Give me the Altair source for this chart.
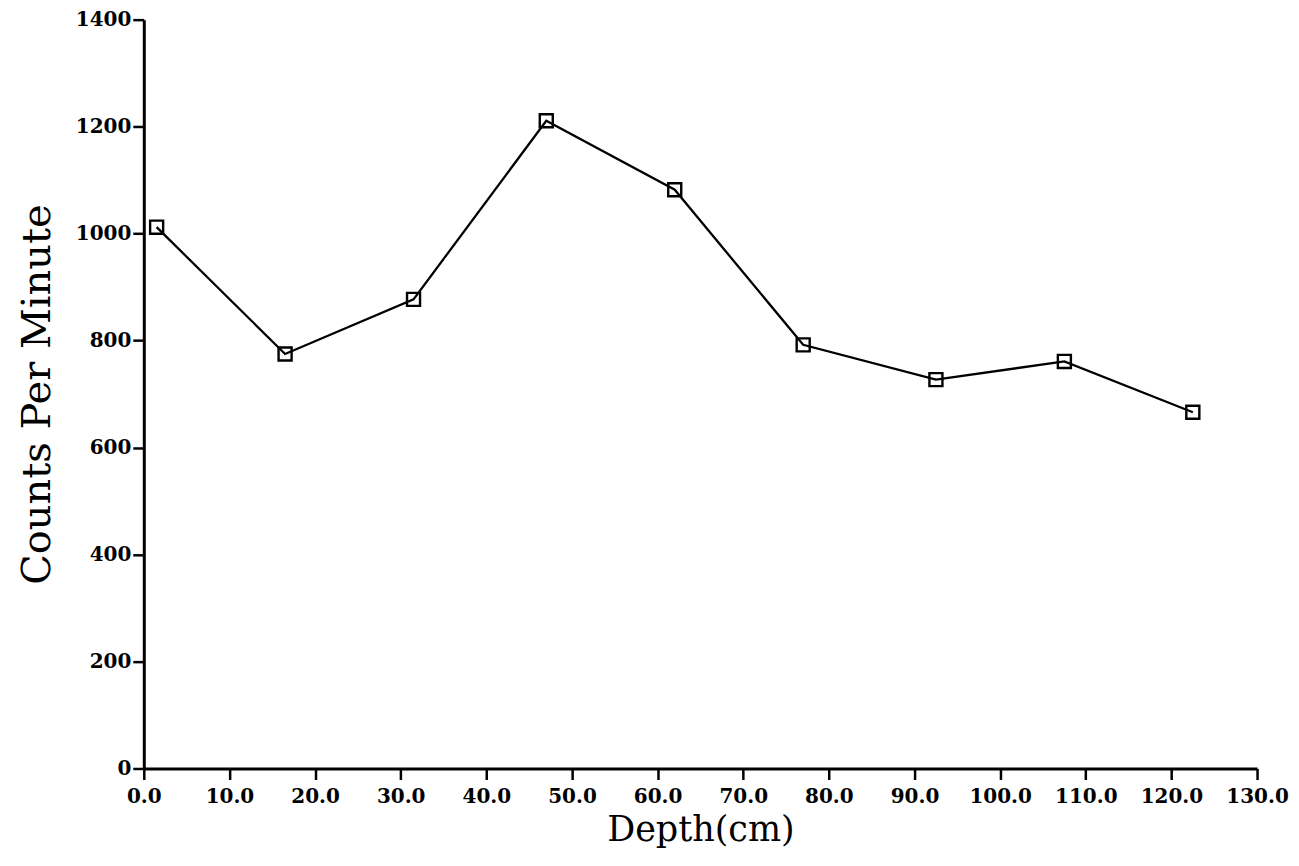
import altair as alt
import pandas as pd

depth = [1.5, 16.5, 31.5, 47.0, 62.0, 77.0, 92.5, 107.5, 122.5]
counts = [1012, 775, 877, 1211, 1082, 792, 727, 761, 666]
x_ticks = [0, 10, 20, 30, 40, 50, 60, 70, 80, 90, 100, 110, 120, 130]
y_ticks = [0, 200, 400, 600, 800, 1000, 1200, 1400]

df = pd.DataFrame({"depth": depth, "counts": counts})

x = alt.X("depth:Q", title="Depth(cm)",
          scale=alt.Scale(domain=[0, 130], nice=False, zero=False),
          axis=alt.Axis(values=x_ticks, format=".1f", grid=False,
                        domainColor="black", domainWidth=3, tickColor="black",
                        tickWidth=2.5, tickSize=11, labelFont="DejaVu Serif",
                        labelFontWeight="bold", labelFontSize=20, labelColor="black",
                        labelPadding=7, labelFlush=False,
                        titleFont="DejaVu Serif", titleFontSize=35,
                        titleFontWeight="normal", titleColor="black", titlePadding=6))
y = alt.Y("counts:Q", title="Counts Per Minute",
          scale=alt.Scale(domain=[0, 1400], nice=False),
          axis=alt.Axis(values=y_ticks, format="d", grid=False,
                        domainColor="black", domainWidth=3, tickColor="black",
                        tickWidth=2.5, tickSize=11, labelFont="DejaVu Serif",
                        labelFontWeight="bold", labelFontSize=20, labelColor="black",
                        labelPadding=2, labelFlush=False,
                        titleFont="DejaVu Serif", titleFontSize=40,
                        titleFontWeight="normal", titleColor="black", titlePadding=18))

line = alt.Chart(df).mark_line(color="black", strokeWidth=2.3).encode(x=x, y=y)
pts = alt.Chart(df).mark_point(shape="square", filled=False, color="black",
                               size=170, strokeWidth=2.4, opacity=1).encode(x=x, y=y)

chart = (line + pts).properties(
    width=1115, height=750,
    background="white",
    autosize=alt.AutoSizeParams(type="none"),
    padding={"left": 136, "top": 11, "right": 34, "bottom": 88},
).configure_view(stroke=None, strokeWidth=0)

chart.save("out.html", embed_options={"renderer": "svg", "actions": False})
